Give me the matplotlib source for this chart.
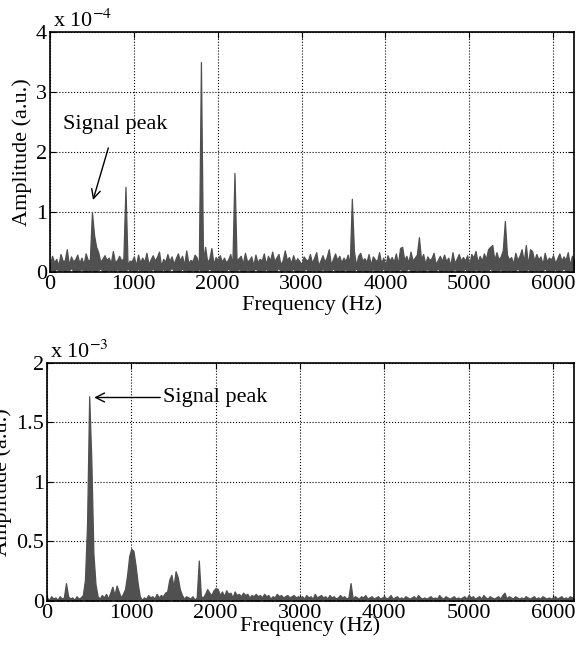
import numpy as np
import matplotlib.pyplot as plt

plt.rcParams['font.family'] = ['Liberation Serif', 'DejaVu Serif']
plt.rcParams['mathtext.fontset'] = 'stix'

# frequency grid (Hz), 25 Hz steps from 0 to 6250
freq = np.arange(0, 6251, 25)

# top panel: upper edge of the noise band, units of 1e-6
top_noise = [
    14, 27, 16, 22, 11, 30, 19, 19, 38, 12, 26, 18, 21, 29, 15, 24, 13, 31, 20, 20,
    18, 25, 12, 33, 17, 22, 28, 20, 24, 15, 35, 16, 20, 27, 19, 23, 30, 12, 19, 18,
    26, 11, 29, 16, 24, 17, 32, 13, 21, 28, 19, 25, 34, 10, 22, 17, 30, 18, 26, 14,
    23, 31, 19, 27, 12, 36, 15, 20, 18, 29, 24, 11, 33, 18, 26, 17, 22, 40, 13, 25,
    20, 28, 17, 24, 16, 21, 30, 12, 35, 19, 23, 27, 14, 32, 18, 20, 26, 11, 29, 16,
    22, 19, 31, 13, 27, 19, 34, 18, 24, 30, 12, 20, 36, 20, 25, 15, 28, 17, 23, 18,
    13, 26, 21, 19, 30, 15, 24, 33, 11, 19, 28, 17, 25, 38, 12, 22, 31, 20, 27, 16,
    24, 18, 29, 14, 35, 20, 11, 27, 32, 19, 23, 17, 30, 12, 26, 21, 18, 33, 15, 24,
    11, 28, 19, 25, 17, 31, 13, 40, 22, 20, 27, 16, 34, 19, 24, 29, 12, 21, 30, 14,
    26, 20, 23, 32, 13, 20, 27, 18, 29, 18, 24, 11, 33, 15, 22, 30, 19, 25, 19, 28,
    12, 30, 24, 35, 16, 27, 19, 31, 22, 38, 14, 28, 20, 33, 21, 26, 36, 13, 29, 21,
    25, 14, 32, 20, 27, 38, 17, 29, 12, 24, 35, 19, 30, 21, 26, 13, 32, 18, 24, 21,
    28, 15, 23, 31, 19, 26, 20, 33, 12, 27, 18,
]
# top panel: lower edge of the noise band, units of 1e-6
top_low = [
    2, 3, 1, 6, 2, 2, 4, 1, 3, 2, 7, 2, 1, 3, 2, 5, 2, 1, 3, 2,
    4, 1, 2, 3, 6, 2, 1, 2, 4, 2, 3, 1, 5, 2, 2, 3, 1, 6, 2, 3,
    1, 2, 5, 2, 3, 1, 2, 4, 2, 6, 1, 3, 2, 2, 5, 1, 2, 3, 7, 2,
    3, 1, 2, 6, 2, 3, 1, 2, 4, 2, 1, 5, 2, 3, 1, 2, 6, 2, 3, 1,
    2, 4, 1, 3, 2, 6, 2, 1, 3, 2, 5, 2, 1, 2, 4, 3, 1, 2, 6, 2,
    1, 3, 2, 5, 2, 1, 3, 2, 2, 7, 1, 2, 4, 2, 1, 3, 5, 2, 1, 2,
    3, 2, 6, 1, 2, 3, 2, 4, 1, 2, 5, 2, 3, 1, 2, 6, 2, 1, 3, 2,
    2, 5, 1, 2, 3, 2, 6, 1, 2, 4, 2, 1, 3, 2, 5, 1, 2, 3, 2, 6,
    1, 2, 4, 2, 3, 1, 2, 5, 2, 1, 3, 6, 2, 1, 2, 4, 2, 3, 1, 2,
    5, 2, 1, 3, 2, 6, 1, 2, 3, 2, 4, 1, 2, 5, 2, 1, 3, 2, 6, 1,
    2, 3, 1, 5, 2, 2, 4, 1, 3, 2, 6, 2, 1, 3, 2, 5, 1, 2, 3, 2,
    4, 1, 2, 6, 2, 3, 1, 2, 5, 2, 1, 3, 2, 4, 1, 2, 6, 2, 1, 3,
    2, 5, 1, 2, 3, 6, 2, 1, 4, 2, 3,
]
# top panel: spectral lines (Hz, units of 1e-4)
top_peak_f = [200, 500, 525, 550, 900, 1800, 1850, 2200, 3600, 3625, 4200, 4400,
              5250, 5275, 5425, 5675, 5725]
top_peak_a = [0.38, 1.0, 0.62, 0.42, 1.42, 3.5, 0.42, 1.65, 1.22, 0.35, 0.42, 0.58,
              0.42, 0.45, 0.85, 0.45, 0.38]

# bottom panel: upper edge of the noise band, units of 1e-5
bot_noise = [
    3, 1, 4, 2, 3, 1, 4, 2, 3, 2, 4, 2, 3, 1, 4, 2, 3, 5, 4, 6,
    6, 4, 5, 3, 4, 2, 5, 3, 6, 2, 7, 3, 5, 4, 8, 3, 6, 4, 5, 3,
    4, 3, 5, 2, 4, 1, 3, 2, 5, 3, 4, 2, 6, 3, 5, 4, 7, 3, 6, 4,
    5, 3, 6, 4, 5, 2, 4, 3, 2, 4, 1, 3, 2, 4, 3, 6, 4, 7, 5, 9,
    6, 10, 5, 8, 4, 9, 6, 7, 3, 8, 5, 6, 4, 7, 5, 6, 3, 5, 4, 6,
    4, 5, 3, 6, 4, 5, 2, 4, 3, 6, 4, 5, 3, 4, 5, 3, 4, 5, 3, 4,
    3, 4, 2, 5, 3, 4, 2, 6, 3, 4, 5, 3, 4, 2, 5, 3, 4, 2, 3, 5,
    3, 4, 2, 3, 5, 2, 4, 3, 2, 4, 3, 5, 2, 3, 4, 2, 3, 4, 2, 3,
    4, 2, 3, 5, 2, 3, 4, 2, 3, 2, 4, 3, 2, 3, 4, 2, 5, 3, 2, 3,
    2, 3, 4, 2, 3, 2, 5, 3, 2, 4, 3, 2, 3, 4, 2, 3, 2, 3, 4, 2,
    5, 3, 4, 2, 3, 4, 2, 5, 3, 2, 4, 3, 2, 3, 4, 2, 5, 3, 2, 4,
    3, 2, 4, 3, 2, 3, 2, 4, 3, 2, 3, 4, 2, 3, 2, 4, 3, 2, 3, 2,
    3, 4, 2, 3, 4, 2, 3, 2, 4, 3, 2,
]
# bottom panel: lower edge of the noise band, units of 1e-5
bot_low = [
    1, 0, 1, 0, 2, 0, 1, 0, 1, 1, 0, 2, 0, 1, 0, 1, 0, 2, 1, 0,
    1, 0, 0, 1, 0, 2, 0, 1, 0, 1, 0, 2, 1, 0, 1, 0, 1, 0, 2, 0,
    0, 1, 0, 1, 2, 0, 1, 0, 0, 1, 0, 2, 0, 1, 0, 1, 0, 0, 1, 2,
    0, 1, 0, 2, 0, 1, 0, 1, 0, 0, 1, 0, 1, 0, 2, 0, 1, 0, 1, 0,
    1, 2, 0, 1, 0, 1, 0, 2, 0, 1, 0, 1, 0, 1, 2, 0, 1, 0, 1, 0,
    0, 1, 2, 0, 1, 0, 1, 0, 2, 0, 1, 0, 1, 0, 0, 1, 2, 0, 1, 0,
    1, 0, 1, 0, 2, 0, 1, 0, 1, 0, 1, 2, 0, 1, 0, 1, 0, 2, 0, 1,
    0, 1, 0, 1, 0, 2, 0, 1, 0, 1, 0, 1, 2, 0, 1, 0, 1, 0, 1, 0,
    2, 0, 1, 0, 1, 0, 1, 2, 0, 1, 0, 1, 0, 1, 0, 2, 0, 1, 0, 1,
    0, 1, 0, 2, 0, 1, 0, 1, 0, 1, 2, 0, 1, 0, 1, 0, 1, 0, 2, 0,
    1, 0, 1, 0, 1, 2, 0, 1, 0, 1, 0, 1, 0, 2, 0, 1, 0, 1, 0, 1,
    0, 2, 0, 1, 0, 1, 0, 1, 2, 0, 1, 0, 1, 0, 1, 0, 2, 0, 1, 0,
    1, 0, 1, 2, 0, 1, 0, 1, 0, 1, 0,
]
# bottom panel: peaks and humps (Hz, units of 1e-3)
bot_peak_f = [225, 450, 475, 500, 525, 550, 575, 775, 825, 925, 950, 975, 1000,
              1025, 1050, 1075, 1425, 1450, 1475, 1500, 1525, 1550, 1575, 1800,
              1900, 2000, 3600, 5425]
bot_peak_a = [0.15, 0.18, 0.65, 1.72, 1.2, 0.4, 0.14, 0.12, 0.13, 0.1, 0.22, 0.38,
              0.44, 0.42, 0.3, 0.15, 0.08, 0.18, 0.22, 0.12, 0.25, 0.2, 0.1, 0.34,
              0.1, 0.11, 0.15, 0.07]

top_hi = np.array(top_noise) / 100.0          # in 1e-4
top_lo = np.array(top_low) / 100.0
for f, a in zip(top_peak_f, top_peak_a):
    i = np.argmin(np.abs(freq - f))
    top_hi[i] = max(top_hi[i], a)

bot_hi = np.array(bot_noise) / 100.0          # in 1e-3
bot_lo = np.array(bot_low) / 100.0
for f, a in zip(bot_peak_f, bot_peak_a):
    i = np.argmin(np.abs(freq - f))
    bot_hi[i] = max(bot_hi[i], a)

line_col = '#505050'
fs = 16

fig = plt.figure(figsize=(5.87, 6.49), dpi=100)
ax1 = fig.add_axes([0.0852, 0.5809, 0.8927, 0.3698])
ax2 = fig.add_axes([0.0801, 0.0740, 0.8978, 0.3667])


def style(ax, ymax, yticks, ylabs):
    ax.set_xlim(0, 6250)
    ax.set_ylim(0, ymax)
    ax.set_xticks([0, 1000, 2000, 3000, 4000, 5000, 6000])
    ax.set_yticks(yticks)
    ax.set_yticklabels(ylabs)
    ax.grid(True, color='black', linestyle=':', linewidth=0.8)
    ax.set_axisbelow(True)
    ax.tick_params(direction='in', top=True, right=True, labelsize=fs,
                   length=4, width=0.8, pad=2)
    for s in ax.spines.values():
        s.set_linewidth(1.2)
        s.set_zorder(5)


ax1.fill_between(freq, top_lo, top_hi, color=line_col,
                 edgecolor=line_col, linewidth=0.9)
style(ax1, 4, [0, 1, 2, 3, 4], ['0', '1', '2', '3', '4'])
ax1.set_xlabel('Frequency (Hz)', fontsize=fs, labelpad=1)
ax1.set_ylabel('Amplitude (a.u.)', fontsize=fs, labelpad=3)
ax1.text(0.005, 1.0, r'x 10$^{-4}$', transform=ax1.transAxes, fontsize=fs,
         ha='left', va='bottom')
ax1.annotate('Signal peak', xy=(513, 1.2), xytext=(776, 2.45), fontsize=fs,
             ha='center', va='center',
             arrowprops=dict(arrowstyle='->', color='black', lw=1.0,
                             shrinkA=8, shrinkB=0))

ax2.fill_between(freq, bot_lo, bot_hi, color=line_col,
                 edgecolor=line_col, linewidth=0.9)
style(ax2, 2, [0, 0.5, 1, 1.5, 2], ['0', '0.5', '1', '1.5', '2'])
ax2.set_xlabel('Frequency (Hz)', fontsize=fs, labelpad=-5)
ax2.set_ylabel('Amplitude (a.u.)', fontsize=fs, labelpad=3)
ax2.text(0.005, 1.0, r'x 10$^{-3}$', transform=ax2.transAxes, fontsize=fs,
         ha='left', va='bottom')
ax2.annotate('Signal peak', xy=(558, 1.71), xytext=(1376, 1.71), fontsize=fs,
             ha='left', va='center',
             arrowprops=dict(arrowstyle='->', color='black', lw=1.0,
                             shrinkA=0, shrinkB=0))

fig.savefig('out.png', dpi=100)
